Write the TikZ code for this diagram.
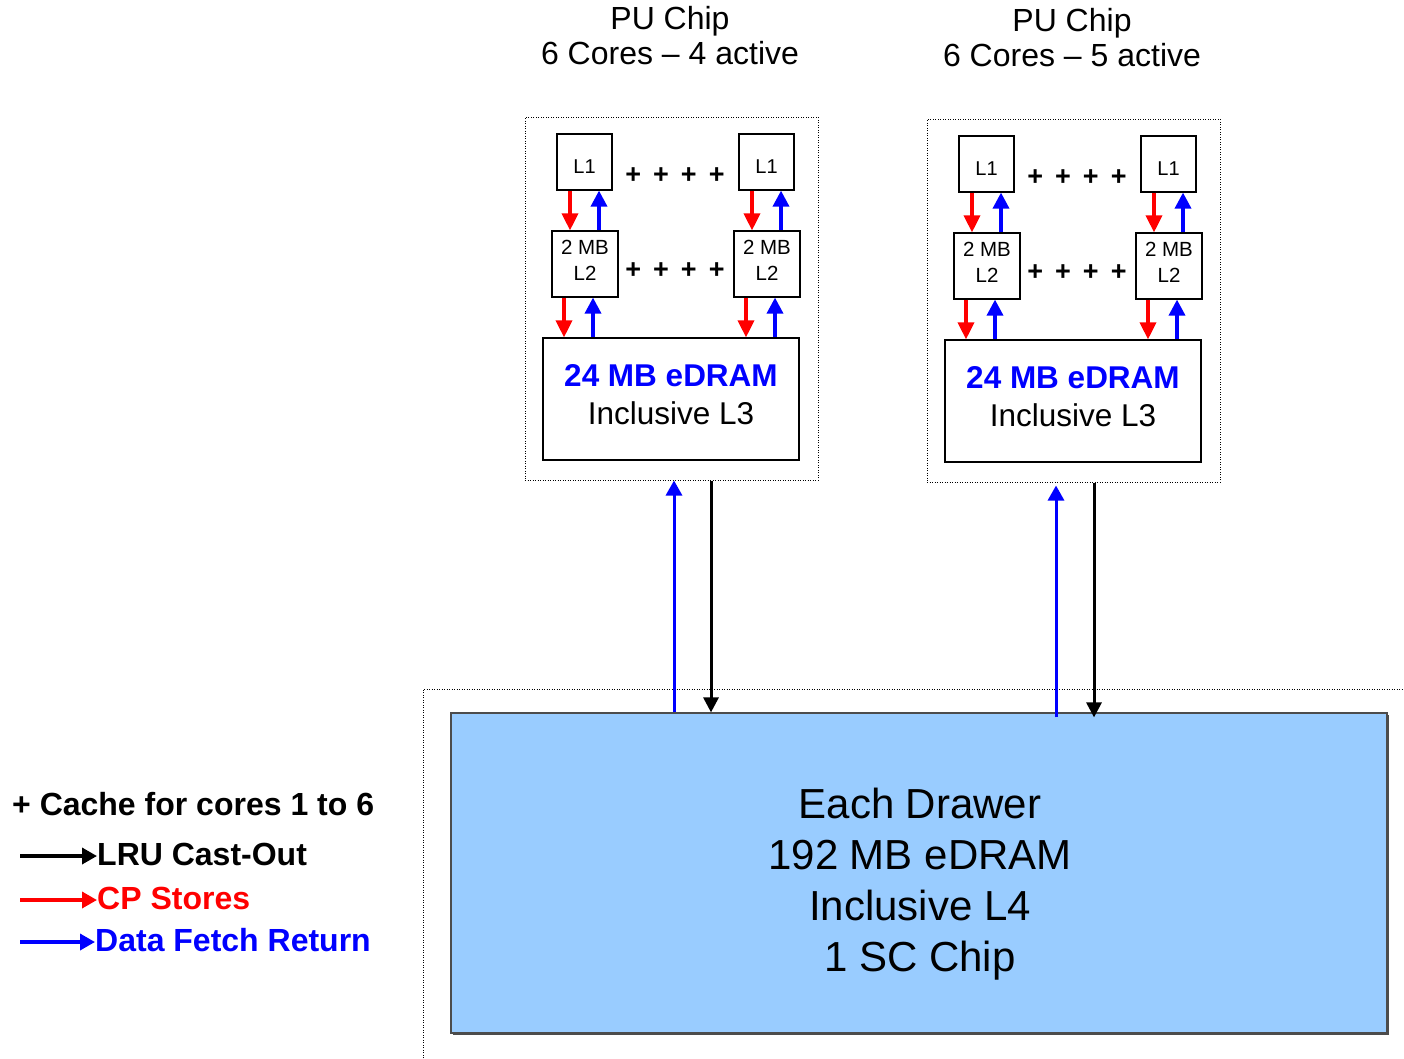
\documentclass[tikz,border=0pt]{standalone}
\usepackage{fontspec}
\setmainfont{Liberation Sans}
\usetikzlibrary{arrows.meta,calc,shadows}
\definecolor{drawerblue}{RGB}{153,204,255}
\definecolor{fetchblue}{RGB}{0,0,255}
\definecolor{storered}{RGB}{255,0,0}
\begin{document}
\begin{tikzpicture}[x=1pt,y=-1pt,
  frame/.style={draw, dash pattern=on 1pt off 1.5pt, line width=1pt, inner sep=0pt},
  cbox/.style={draw, line width=1.2pt, fill=white, inner sep=0pt, align=center},
  redar/.style={draw=storered, line width=3.5pt, -{Triangle[width=16pt,length=17pt]}},
  bluear/.style={draw=fetchblue, line width=3.5pt, -{Triangle[width=16pt,length=16pt]}},
  busblue/.style={draw=fetchblue, line width=3pt, -{Triangle[width=16pt,length=15pt]}},
  busblack/.style={draw=black, line width=3pt, -{Triangle[width=15pt,length=15pt]}},
  legar/.style={line width=3.5pt, -{Triangle[width=16pt,length=15pt]}},
  txt/.style={inner sep=0pt, align=center},
  plusrow/.style={inner sep=0pt, font=\fontsize{27}{30}\selectfont\bfseries}
]
\useasboundingbox (0,0) rectangle (1404,1058);

% outer dotted drawer frame
\draw[frame] (423,1058) -- (423,689) -- (1404,689);

% drawer
\node[draw=black!70, line width=1.2pt, fill=drawerblue, minimum width=936, minimum height=320, inner sep=0pt,
  drop shadow={shadow xshift=1.5pt, shadow yshift=-2pt, fill=black!70, opacity=1}] (dr) at (919,873) {};
\node[txt, font=\fontsize{42}{51}\selectfont] (drt) at (920,884) {Each Drawer\\192 MB eDRAM\\Inclusive L4\\1 SC Chip};

% chips
\foreach \c/\dx/\dy/\n in {A/0/0/4, B/402/2/5} {
\begin{scope}[shift={(\dx,\dy)}]
  \node[txt, font=\fontsize{32}{35}\selectfont] (title\c) at (670,36) {PU Chip\\6 Cores -- \n\ active};
  \node[frame, minimum width=293, minimum height=363] (chip\c) at (671.5,298.5) {};
  \node[cbox, minimum width=55, minimum height=56] (l1a\c) at (584.5,162) {};
  \node[cbox, minimum width=55, minimum height=56] (l1b\c) at (766.5,162) {};
  \node[txt, font=\fontsize{20}{22}\selectfont] (l1at\c) at (584.5,167) {L1};
  \node[txt, font=\fontsize{20}{22}\selectfont] (l1bt\c) at (766.5,167) {L1};
  \node[cbox, minimum width=66, minimum height=66] (l2a\c) at (585,264) {};
  \node[cbox, minimum width=66, minimum height=66] (l2b\c) at (767,264) {};
  \node[txt, font=\fontsize{20.5}{26}\selectfont] (l2at\c) at (585,260) {2 MB\\L2};
  \node[txt, font=\fontsize{20.5}{26}\selectfont] (l2bt\c) at (767,260) {2 MB\\L2};
  \node[cbox, minimum width=256, minimum height=122] (l3\c) at (671,399) {};
  \node[txt, font=\fontsize{31.5}{38}\selectfont] (l3t\c) at (671,395) {{\bfseries\color{fetchblue}24 MB eDRAM}\\Inclusive L3};
  \node[plusrow] (p1\c) at (675,176) {+\hspace{12pt}+\hspace{12pt}+\hspace{12pt}+};
  \node[plusrow] (p2\c) at (675,271) {+\hspace{12pt}+\hspace{12pt}+\hspace{12pt}+};
  % L1 <-> L2
  \draw[redar] ($(l1a\c.south)+(-14.5,0)$) -- ($(l2a\c.north)+(-15,0)$);
  \draw[bluear] ($(l2a\c.north)+(14,0)$) -- ($(l1a\c.south)+(14.5,0)$);
  \draw[redar] ($(l1b\c.south)+(-14.5,0)$) -- ($(l2b\c.north)+(-15,0)$);
  \draw[bluear] ($(l2b\c.north)+(14,0)$) -- ($(l1b\c.south)+(14.5,0)$);
  % L2 <-> L3
  \draw[redar] ($(l2a\c.south)+(-21,0)$) -- ($(l3\c.north)+(-107,0)$);
  \draw[bluear] ($(l3\c.north)+(-78,0)$) -- ($(l2a\c.south)+(8,0)$);
  \draw[redar] ($(l2b\c.south)+(-21,0)$) -- ($(l3\c.north)+(75,0)$);
  \draw[bluear] ($(l3\c.north)+(104,0)$) -- ($(l2b\c.south)+(8,0)$);
\end{scope}
}

% chip <-> drawer
\draw[busblue] ($(dr.north)+(-245,0)$) -- ($(chipA.south)+(2.5,0)$);
\draw[busblack] ($(chipA.south)+(39.5,0)$) -- ($(dr.north)+(-208,0)$);
\draw[busblue, shorten <=-5pt, shorten >=3pt] ($(dr.north)+(137,0)$) -- ($(chipB.south)+(-17.5,0)$);
\draw[busblack, shorten >=-5pt] ($(chipB.south)+(20.5,0)$) -- ($(dr.north)+(175,0)$);

% legend
\node[anchor=west, inner sep=0pt, font=\fontsize{32}{36}\selectfont\bfseries] (lg0) at (12,804)
  {+ Cache for cores 1 to 6};
\node[anchor=west, inner sep=0pt, font=\fontsize{32}{36}\selectfont\bfseries] (lg1) at (97,854) {LRU Cast-Out};
\node[anchor=west, inner sep=0pt, font=\fontsize{32}{36}\selectfont\bfseries, text=storered] (lg2) at (97,898) {CP Stores};
\node[anchor=west, inner sep=0pt, font=\fontsize{32}{36}\selectfont\bfseries, text=fetchblue] (lg3) at (95,940) {Data Fetch Return};
\coordinate (lg1s) at (20,856);
\coordinate (lg2s) at (20,900);
\coordinate (lg3s) at (20,942);
\draw[legar, black] (lg1s) -- (lg1s -| lg1.west);
\draw[legar, storered] (lg2s) -- (lg2s -| lg2.west);
\draw[legar, fetchblue] (lg3s) -- (lg3s -| lg3.west);
\end{tikzpicture}
\end{document}
